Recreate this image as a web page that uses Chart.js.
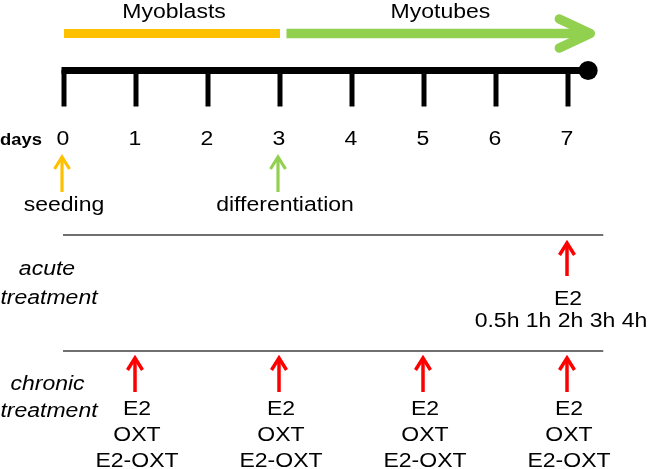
<!DOCTYPE html>
<html>
<head>
<meta charset="utf-8">
<script src="https://cdn.jsdelivr.net/npm/chart.js@4"></script>
<style>
  body { margin: 0; background: #fff; }
  #wrap { width: 653px; height: 469px; }
</style>
</head>
<body>
<div id="wrap"><canvas id="c" width="653" height="469"></canvas></div>
<script>
// ---- data ----
const days = [0, 1, 2, 3, 4, 5, 6, 7];
const phaseLabels = ['Myoblasts', 'Myotubes'];
const phaseStart = [0, 3.09];
const phaseEnd = [3, 7.31];
const eventLabels = ['seeding', 'differentiation'];
const eventDays = [0, 3];
const acuteDays = [7];
const acuteDrugs = ['E2'];
const acuteTimes = ['0.5h', '1h', '2h', '3h', '4h'];
const chronicDays = [1, 3, 5, 7];
const chronicDrugs = ['E2', 'OXT', 'E2-OXT'];
const timelineEnd = 7.28;
const rowEnd = 7.49;

// ---- layout (pixels / rows) ----
const PX_DAY = 72, X0 = 64, W = 653, H = 469;
const P = 9.5; // chart.js keeps this much room for the end dot (max overflow)
const d = px => px / PX_DAY; // pixel offset -> days
const yellow = '#ffc000', green = '#92d050', red = '#ff0000';
const stretch = 1.15;
const font = '20px "Liberation Sans", Arial, sans-serif';

function seg(points, color, width, extra) {
    return Object.assign({
        data: points, showLine: true, borderColor: color, backgroundColor: color,
        borderWidth: width, pointRadius: 0, borderCapStyle: 'butt', tension: 0
    }, extra || {});
}
// upward arrow: shaft + head
function upArrow(day, top, bottom, color, width, hw, hl) {
    return [
        seg([{ x: day, y: top + 2 }, { x: day, y: bottom }], color, width),
        seg([{ x: day - d(hw), y: top + hl }, { x: day, y: top }, { x: day + d(hw), y: top + hl }], color, width,
            { borderJoinStyle: 'miter', borderCapStyle: 'butt' })
    ];
}

let datasets = [];
// phase bars
datasets.push(seg([{ x: phaseStart[0], y: 33.5 }, { x: phaseEnd[0], y: 33.5 }], yellow, 9));
datasets.push(seg([{ x: phaseStart[1], y: 33.5 }, { x: phaseEnd[1] - d(3), y: 33.5 }], green, 9.5));
datasets.push(seg([{ x: phaseEnd[1] - d(31), y: 19 }, { x: phaseEnd[1], y: 33.5 }, { x: phaseEnd[1] - d(31), y: 48 }], green, 9.5,
    { borderJoinStyle: 'round', borderCapStyle: 'round' }));
// timeline
datasets.push(seg([{ x: -d(2.5), y: 70.5 }, { x: timelineEnd, y: 70.5 }], '#000', 7));
days.forEach(v => datasets.push(seg([{ x: v, y: 70 }, { x: v, y: 106.5 }], '#000', 5)));
datasets.push({ data: [{ x: timelineEnd, y: 70.5 }], pointRadius: 9.5, pointHoverRadius: 9.5, backgroundColor: '#000', borderWidth: 0 });
// events
eventDays.forEach((v, i) => {
    datasets = datasets.concat(upArrow(v - d(2), 157, 192, i === 0 ? yellow : green, 3.2, 7.5, 12));
});
// treatment rows
datasets.push(seg([{ x: -d(1), y: 235 }, { x: rowEnd, y: 235 }], '#404040', 1.5));
datasets.push(seg([{ x: -d(1), y: 351 }, { x: rowEnd, y: 351 }], '#404040', 1.5));
acuteDays.forEach(v => { datasets = datasets.concat(upArrow(v - d(1), 243, 276, red, 3.5, 7.5, 12)); });
chronicDays.forEach(v => { datasets = datasets.concat(upArrow(v - d(1), 358, 392, red, 3.5, 7.5, 12)); });

function txt(ctx, s, x, y, f) {
    ctx.save();
    ctx.translate(x, y);
    ctx.scale(stretch, 1);
    ctx.font = f || font;
    ctx.fillStyle = '#000';
    ctx.textAlign = 'center';
    ctx.textBaseline = 'alphabetic';
    ctx.fillText(s, 0, 0);
    ctx.restore();
}

const labelsPlugin = {
    id: 'labels',
    afterDraw(chart) {
        const ctx = chart.ctx, xs = chart.scales.x, ys = chart.scales.y;
        const X = v => xs.getPixelForValue(v), Y = v => ys.getPixelForValue(v);
        phaseLabels.forEach((l, i) => txt(ctx, l, X((phaseStart[i] + phaseEnd[i]) / 2) + 2, Y(17.5)));
        txt(ctx, 'days', 21, Y(144.5), 'bold 16px "Liberation Sans", Arial, sans-serif');
        days.forEach(v => txt(ctx, String(v), X(v) - 1, Y(145)));
        eventLabels.forEach((l, i) => txt(ctx, l, X(eventDays[i]) + (i ? 5 : 0), Y(210.5)));
        const it = 'italic 20px "Liberation Sans", Arial, sans-serif';
        txt(ctx, 'acute', 47, Y(275), it);
        txt(ctx, 'treatment', 49, Y(303.5), it);
        txt(ctx, 'chronic', 47.5, Y(390), it);
        txt(ctx, 'treatment', 49, Y(417), it);
        acuteDays.forEach(v => {
            acuteDrugs.forEach((s, k) => txt(ctx, s, X(v), Y(305 + k * 26)));
            txt(ctx, acuteTimes.join(' '), X(v) - 7, Y(327));
        });
        chronicDays.forEach(v => {
            chronicDrugs.forEach((s, k) => txt(ctx, s, X(v) + 1, Y(415 + k * 26)));
        });
    }
};

new Chart(document.getElementById('c'), {
    type: 'scatter',
    data: { datasets: datasets },
    options: {
        responsive: false,
        animation: false,
        devicePixelRatio: 1,
        layout: { padding: P },
        plugins: { legend: { display: false }, tooltip: { enabled: false } },
        scales: {
            x: { type: 'linear', display: false, min: (P - X0) / PX_DAY, max: (W - P - X0) / PX_DAY },
            y: { type: 'linear', display: false, min: P, max: H - P, reverse: true }
        }
    },
    plugins: [labelsPlugin]
});
</script>
</body>
</html>
